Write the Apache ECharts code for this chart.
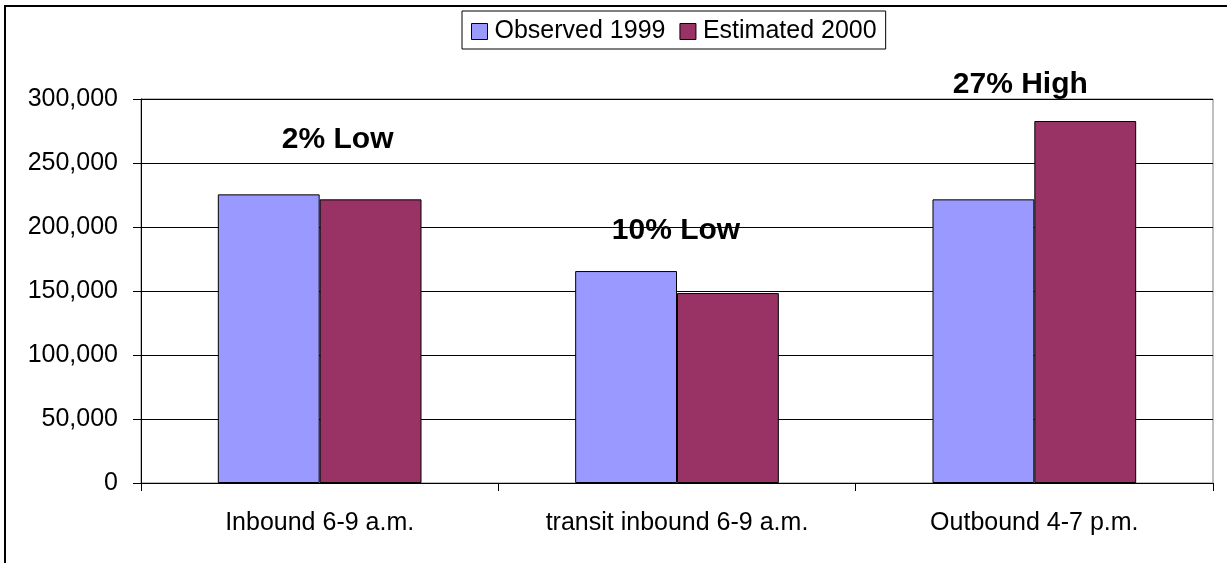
<!DOCTYPE html>
<html>
<head>
<meta charset="utf-8">
<script src="https://cdn.jsdelivr.net/npm/echarts@6/dist/echarts.min.js"></script>
<style>
  html, body { margin: 0; padding: 0; background: #fff; }
  #main { width: 1227px; height: 563px; }
</style>
</head>
<body>
<div id="main"></div>
<script>
// data
const categories = ['Inbound 6-9 a.m.', 'transit inbound 6-9 a.m.', 'Outbound 4-7 p.m.'];
const observed1999 = [225500, 165600, 221600];
const estimated2000 = [221600, 148400, 282800];
const yTicks = [0, 50000, 100000, 150000, 200000, 250000, 300000];
// the bold notes above each group, and the height (in data units) where they sit
const notes = ['2% Low', '10% Low', '27% High'];
const noteLevels = [268000, 196900, 310900];
const noteShift = [18, -1, -14];

const font = '"Liberation Sans", Arial, sans-serif';
const chart = echarts.init(document.getElementById('main'));

chart.setOption({
  animation: false,
  backgroundColor: '#fff',
  grid: {
    left: 141, right: 14, top: 99, bottom: 80,
    show: true, borderColor: '#808080', borderWidth: 1, backgroundColor: 'transparent'
  },
  legend: {
    data: ['Observed 1999', 'Estimated 2000'],
    left: 462, top: 11,
    padding: [8, 9, 5, 9],
    itemWidth: 16, itemHeight: 16, itemGap: 14,
    icon: 'rect',
    borderColor: '#000', borderWidth: 1, backgroundColor: '#fff',
    itemStyle: { borderColor: '#000', borderWidth: 1 },
    textStyle: { fontFamily: font, fontSize: 25, color: '#000', padding: [0, 0, 0, 2] }
  },
  xAxis: {
    type: 'category',
    data: categories,
    axisLine: { lineStyle: { color: '#000', width: 1 } },
    axisTick: { show: true, length: 8, lineStyle: { color: '#000' } },
    axisLabel: { fontFamily: font, fontSize: 25, color: '#000', margin: 28 },
    splitLine: { show: false }
  },
  yAxis: {
    type: 'value',
    min: yTicks[0], max: yTicks[yTicks.length - 1], interval: 50000,
    axisLine: { show: true, lineStyle: { color: '#000', width: 1 } },
    axisTick: { show: true, length: 8, lineStyle: { color: '#000' } },
    axisLabel: {
      fontFamily: font, fontSize: 25, color: '#000', margin: 23,
      formatter: v => v.toLocaleString('en-US')
    },
    splitLine: { show: true, lineStyle: { color: '#000', width: 1 } }
  },
  series: [
    {
      name: 'Observed 1999', type: 'bar', data: observed1999,
      barGap: '0%', barCategoryGap: '43%',
      itemStyle: { color: '#9999FF', borderColor: '#000', borderWidth: 1 }
    },
    {
      name: 'Estimated 2000', type: 'bar', data: estimated2000,
      barGap: '0%', barCategoryGap: '43%',
      itemStyle: { color: '#993366', borderColor: '#000', borderWidth: 1 }
    },
    {
      name: 'notes', type: 'scatter', symbolSize: 1, clip: false, silent: true, z: 10,
      itemStyle: { opacity: 0 },
      data: notes.map((t, i) => ({
        value: [i, noteLevels[i]],
        label: { offset: [noteShift[i], 0] }
      })),
      label: {
        show: true, position: 'inside', opacity: 1,
        formatter: p => notes[p.dataIndex],
        fontFamily: font, fontSize: 30, fontWeight: 'bold', color: '#000'
      }
    }
  ],
  graphic: [{
    type: 'rect', silent: true, z: 100,
    shape: { x: 5, y: 6, width: 1400, height: 800 },
    style: { fill: 'none', stroke: '#000', lineWidth: 2 }
  }]
});
</script>
</body>
</html>
